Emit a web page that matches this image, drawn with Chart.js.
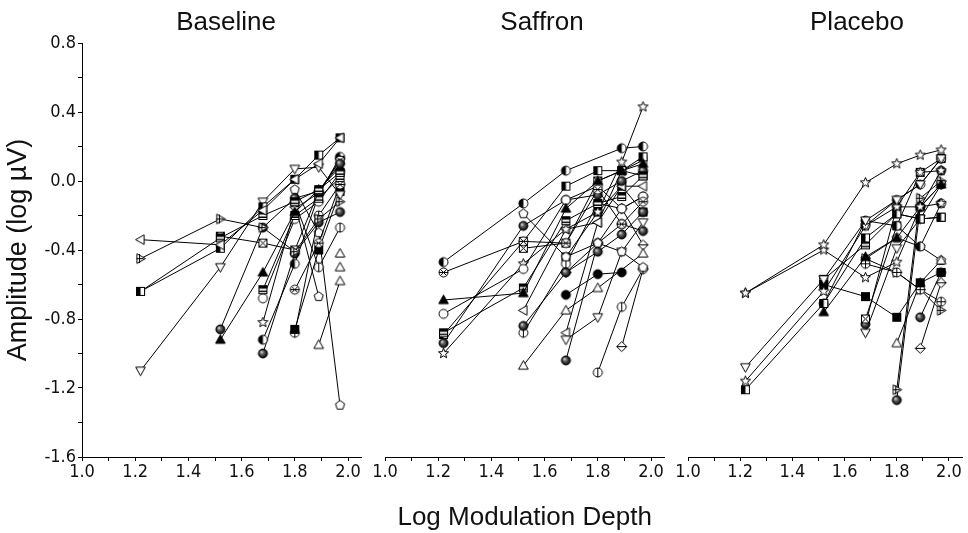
<!DOCTYPE html>
<html><head><meta charset="utf-8">
<script src="https://cdn.jsdelivr.net/npm/chart.js@4"></script>
<style>
html,body{margin:0;padding:0;background:#fff;overflow:hidden}
#wrap{position:relative;width:968px;height:533px;background:#fff}
#wrap canvas{position:absolute;left:0;top:0}
</style></head>
<body>
<div id="wrap">
<canvas id="c1" width="968" height="533"></canvas>
<canvas id="c2" width="968" height="533"></canvas>
<canvas id="c3" width="968" height="533"></canvas>
</div>
<script>
// ---------------- data ----------------
const depth = [1.22, 1.52, 1.68, 1.80, 1.89, 1.97];
const panelTitles = ['Baseline', 'Saffron', 'Placebo'];
const xTickLabels = ['1.0', '1.2', '1.4', '1.6', '1.8', '2.0'];
const yTickLabels = ['-1.6', '-1.2', '-0.8', '-0.4', '0.0', '0.4', '0.8'];
const yAxisTitle = 'Amplitude (log \u00B5V)';
const xAxisTitle = 'Log Modulation Depth';

// amplitude (log µV) per subject, one value per depth (null = not measured)
const baselineAmp = [
  [-0.34, -0.37, -0.17, 0.01, 0.10, 0.25],
  [-0.45, -0.22, -0.27, -0.41, -0.22, -0.12],
  [-0.64, -0.39, -0.15, 0.01, 0.15, 0.25],
  [-0.64, -0.33, -0.20, -0.12, -0.05, 0.05],
  [-1.10, -0.50, -0.12, 0.07, 0.08, -0.08],
  [null, -0.86, -0.27, -0.10, -0.06, 0.10],
  [null, -0.92, -0.53, -0.18, -0.05, 0.08],
  [null, -0.32, -0.36, -0.40, -0.06, 0.12],
  [null, null, -0.63, -0.20, -0.10, 0.02],
  [null, null, -0.68, -0.22, -0.12, 0.05],
  [null, null, -0.82, -0.16, -0.07, 0.12],
  [null, null, -0.92, -0.48, -0.08, 0.14],
  [null, null, -1.00, -0.42, -0.24, -0.18],
  [null, null, null, -0.63, -0.36, -0.02],
  [null, null, null, -0.86, -0.40, -0.06],
  [null, null, null, -0.88, -0.20, -0.02],
  [null, null, null, -0.12, -0.50, -0.27],
  [null, null, null, -0.05, -0.30, -1.30],
  [null, null, null, null, -0.95, -0.58],
  [null, null, null, -0.13, -0.67, null],
  [null, null, null, null, null, -0.42],
  [null, null, null, null, null, -0.50]
];
const saffronAmp = [
  [-0.47, -0.13, 0.06, null, 0.19, 0.20],
  [-0.53, -0.35, -0.36, -0.05, -0.25, -0.12],
  [-0.69, -0.65, -0.16, 0.00, 0.06, 0.10],
  [-0.77, -0.51, -0.11, -0.03, -0.16, -0.09],
  [-0.88, -0.62, -0.23, -0.13, -0.09, 0.03],
  [-0.89, -0.35, -0.03, 0.06, 0.06, 0.14],
  [-0.94, -0.26, -0.11, -0.08, 0.00, 0.06],
  [-1.00, -0.48, -0.28, -0.18, 0.11, 0.43],
  [null, -0.19, -0.44, -0.36, -0.41, -0.50],
  [null, -0.75, -0.28, -0.24, -0.03, -0.03],
  [null, -0.84, -0.53, -0.41, -0.31, -0.18],
  [null, -0.88, -0.48, -0.13, -0.16, -0.09],
  [null, -1.07, -0.75, -0.62, null, -0.42],
  [null, null, -0.66, -0.54, -0.53, null],
  [null, null, -0.92, -0.79, -0.41, -0.24],
  [null, null, -1.04, -0.36, -0.25, -0.29],
  [null, null, null, -1.11, -0.73, -0.51],
  [null, null, null, null, -0.96, -0.51],
  [null, null, -0.44, -0.18, -0.03, -0.18],
  [null, null, -0.53, -0.36, -0.16, -0.37],
  [null, null, -0.88, -0.24, 0.06, 0.12],
  [null, -0.39, -0.36, 0.00, 0.06, 0.03]
];
const placeboAmp = [
  [-0.65, -0.37, -0.01, 0.10, 0.15, 0.18],
  [-0.65, -0.40, -0.56, -0.47, -0.15, -0.13],
  [-1.08, -0.57, -0.23, -0.11, -0.02, 0.13],
  [-1.16, -0.64, -0.26, -0.15, 0.05, 0.06],
  [-1.21, -0.71, -0.33, -0.19, -0.22, -0.21],
  [null, -0.76, -0.44, -0.33, -0.15, -0.02],
  [null, -0.71, -0.23, -0.26, -0.38, -0.13],
  [null, -0.60, -0.67, -0.79, -0.59, -0.53],
  [null, null, -0.80, -0.26, 0.05, 0.13],
  [null, null, -0.83, -0.15, -0.15, 0.06],
  [null, null, -0.88, -0.39, -0.22, -0.02],
  [null, null, -0.48, -0.53, -0.63, -0.70],
  [null, null, null, -0.94, -0.59, -0.46],
  [null, null, null, -1.21, -0.10, 0.00],
  [null, null, null, -1.27, -0.15, -0.02],
  [null, null, null, null, -0.97, -0.59],
  [null, null, null, null, -0.79, -0.53],
  [null, null, -0.45, -0.53, -0.63, -0.75],
  [null, -0.57, -0.37, -0.19, -0.22, -0.21],
  [null, null, -0.26, -0.11, -0.02, 0.13],
  [null, null, -0.45, -0.33, -0.38, -0.46]
];

// ---------------- styles ----------------
const baselineMarkers = ['triL','triRP','sqH','sqB','triD','sphere','triUF','xbox','sqB','circO','star','circH','sphere','xcirc','sqF','oplus','circV','pent','triU','pent','triU','triU'];
const saffronMarkers = ['circH','xcirc','triUF','circO','sqB','sqH','sphere','star','pent','triL','sphere','circV','triU','circF','triD','sphere','circV','diam','sqF','diam','triL','xbox'];
const placeboMarkers = ['star','star','triD','star','sqH','triUF','circH','sqF','xbox','sphere','triD','oplus','triU','triRP','sphere','diam','sphere','triRP','sqB','circH','pent'];

const markerCache = {};
function marker(type) {
  if (markerCache[type]) return markerCache[type];
  const s = 13, c = document.createElement('canvas');
  c.width = s; c.height = s;
  const g = c.getContext('2d');
  g.translate(6.5, 6.5);
  g.lineWidth = 1; g.strokeStyle = '#000'; g.fillStyle = '#fff';
  const r = 4.5;
  const circ = () => { g.beginPath(); g.arc(0, 0, r, 0, Math.PI * 2); };
  const poly = (n, rr, rot) => {
    g.beginPath();
    for (let i = 0; i < n; i++) {
      const a = rot + i * 2 * Math.PI / n;
      const px = rr * Math.cos(a), py = rr * Math.sin(a);
      i ? g.lineTo(px, py) : g.moveTo(px, py);
    }
    g.closePath();
  };
  const tri = (rot, fill) => {
    g.save(); g.rotate(rot);
    g.beginPath(); g.moveTo(0, -5); g.lineTo(4.8, 3.6); g.lineTo(-4.8, 3.6); g.closePath();
    g.fillStyle = fill; g.fill(); g.stroke(); g.restore();
  };
  const line = (x1, y1, x2, y2) => { g.beginPath(); g.moveTo(x1, y1); g.lineTo(x2, y2); g.stroke(); };
  switch (type) {
    case 'circO': circ(); g.fill(); g.stroke(); break;
    case 'circF': circ(); g.fillStyle = '#000'; g.fill(); g.stroke(); break;
    case 'circH':
      circ(); g.fill();
      g.beginPath(); g.arc(0, 0, r, Math.PI / 2, Math.PI * 1.5); g.closePath(); g.fillStyle = '#000'; g.fill();
      circ(); g.stroke(); break;
    case 'sphere': {
      const gr = g.createRadialGradient(-1.6, -1.6, 0.2, 0, 0, r);
      gr.addColorStop(0, '#e8e8e8'); gr.addColorStop(0.35, '#6a6a6a'); gr.addColorStop(1, '#000');
      circ(); g.fillStyle = gr; g.fill(); g.stroke(); break;
    }
    case 'circV': circ(); g.fill(); g.stroke(); line(0, -r, 0, r); break;
    case 'oplus': circ(); g.fill(); g.stroke(); line(0, -r, 0, r); line(-r, 0, r, 0); break;
    case 'xcirc': circ(); g.fill(); g.stroke();
      line(-3.2, -3.2, 3.2, 3.2); line(-3.2, 3.2, 3.2, -3.2); line(-r, 0, r, 0); break;
    case 'sqO': g.fillRect(-4, -4, 8, 8); g.strokeRect(-4, -4, 8, 8); break;
    case 'sqF': g.fillStyle = '#000'; g.fillRect(-4, -4, 8, 8); g.strokeRect(-4, -4, 8, 8); break;
    case 'sqH': g.fillRect(-4, -4, 8, 8); g.fillStyle = '#000'; g.fillRect(-4, -4, 4, 8); g.strokeRect(-4, -4, 8, 8); break;
    case 'sqB': g.fillRect(-4, -4, 8, 8); g.fillStyle = '#000'; g.fillRect(-4, -4, 8, 3); g.fillRect(-4, 1, 8, 1.5); g.strokeRect(-4, -4, 8, 8); break;
    case 'xbox': g.fillRect(-4, -4, 8, 8); g.strokeRect(-4, -4, 8, 8); line(-4, -4, 4, 4); line(-4, 4, 4, -4); break;
    case 'triU': tri(0, '#fff'); break;
    case 'triUF': tri(0, '#000'); break;
    case 'triD': tri(Math.PI, '#fff'); break;
    case 'triL': tri(-Math.PI / 2, '#fff'); break;
    case 'triR': tri(Math.PI / 2, '#fff'); break;
    case 'triRP': tri(Math.PI / 2, '#fff'); line(-1, -4.5, -1, 4.5); line(-4, 0, 3, 0); break;
    case 'star': {
      g.beginPath();
      for (let i = 0; i < 10; i++) {
        const a = -Math.PI / 2 + i * Math.PI / 5, rr = i % 2 ? 2.3 : 5.3;
        const px = rr * Math.cos(a), py = rr * Math.sin(a);
        i ? g.lineTo(px, py) : g.moveTo(px, py);
      }
      g.closePath(); g.fill(); g.stroke(); break;
    }
    case 'pent': poly(5, 4.8, -Math.PI / 2); g.fill(); g.stroke(); break;
    case 'diam': poly(4, 5, -Math.PI / 2); g.fill(); g.stroke(); line(-5, 0, 5, 0); break;
    default: circ(); g.fill(); g.stroke();
  }
  markerCache[type] = c;
  return c;
}

// ---------------- charts ----------------
const FONT = "'Liberation Sans Narrow', 'DejaVu Sans Condensed', sans-serif";
const FONT_REG = "Liberation Sans, Arial, sans-serif";
const TOP = 43, BOTTOM = 457, X_PX_PER_UNIT = 266, X_MIN = 1.0, X_MAX = 2.05;
const panelLeft = [82, 385, 688];
const titleX = [226, 542, 857];

const titlePlugin = {
  id: 'panelTitle',
  afterDraw(chart, args, opts) {
    const ctx = chart.ctx;
    ctx.save();
    ctx.font = '26px ' + FONT_REG;
    ctx.fillStyle = '#111';
    ctx.textAlign = 'center';
    ctx.textBaseline = 'middle';
    ctx.fillText(opts.text, opts.x, 23);
    ctx.restore();
  }
};

function makeDatasets(rows, markers) {
  return rows.map((row, i) => ({
    data: row.map((v, j) => v === null ? null : { x: depth[j], y: v }).filter(p => p),
    borderColor: '#000',
    borderWidth: 1,
    pointStyle: marker(markers[i]),
    pointRadius: 5,
    pointHoverRadius: 5,
    showLine: true,
    fill: false,
    tension: 0
  }));
}

function makeChart(id, idx, rows, markers) {
  const left = panelLeft[idx];
  const right = left + (X_MAX - X_MIN) * X_PX_PER_UNIT;
  const isFirst = idx === 0;
  const isMid = idx === 1;
  new Chart(document.getElementById(id), {
    type: 'line',
    data: { datasets: makeDatasets(rows, markers) },
    plugins: [titlePlugin],
    options: {
      responsive: false,
      animation: false,
      events: [],
      layout: { padding: { left: isFirst ? 0 : left, right: 968 - right, top: TOP, bottom: 0 } },
      plugins: {
        legend: { display: false },
        tooltip: { enabled: false },
        panelTitle: { text: panelTitles[idx], x: titleX[idx] }
      },
      scales: {
        x: {
          type: 'linear',
          min: X_MIN, max: X_MAX,
          afterBuildTicks: (s) => {
            const t = [];
            for (let i = 0; i <= 10; i++) t.push({ value: Math.round((1 + i / 10) * 10) / 10 });
            s.ticks = t;
          },
          afterFit: (s) => { s.height = 533 - BOTTOM; },
          ticks: {
            autoSkip: false, maxRotation: 0, minRotation: 0, padding: 1,
            color: '#111',
            font: { family: FONT, size: 18 },
            callback: (v) => {
              const lbl = v.toFixed(1);
              return xTickLabels.includes(lbl) ? lbl : '';
            }
          },
          grid: { drawOnChartArea: false, drawTicks: true, tickLength: 4, color: '#000', lineWidth: 1 },
          border: { display: true, color: '#000', width: 1 },
          title: {
            display: isMid, text: xAxisTitle, color: '#111',
            font: { family: FONT_REG, size: 26 }, padding: { top: 0, bottom: 0 }
          }
        },
        y: {
          type: 'linear',
          display: isFirst,
          min: -1.6, max: 0.8,
          afterBuildTicks: (s) => {
            const t = [];
            for (let i = 0; i <= 12; i++) t.push({ value: Math.round((-1.6 + i * 0.2) * 10) / 10 });
            s.ticks = t;
          },
          afterFit: (s) => { s.width = isFirst ? panelLeft[0] : 0; },
          ticks: {
            autoSkip: false, padding: 2, color: '#111',
            font: { family: FONT, size: 18 },
            callback: (v) => {
              const lbl = (Math.abs(v) < 1e-9 ? 0 : v).toFixed(1);
              return yTickLabels.includes(lbl) ? lbl : '';
            }
          },
          grid: { drawOnChartArea: false, drawTicks: true, tickLength: 4, color: '#000', lineWidth: 1 },
          border: { display: true, color: '#000', width: 1 },
          title: {
            display: true, text: yAxisTitle, color: '#111',
            font: { family: FONT_REG, size: 27 }, padding: { top: 2, bottom: 0 }
          }
        }
      }
    }
  });
}

makeChart('c1', 0, baselineAmp, baselineMarkers);
makeChart('c2', 1, saffronAmp, saffronMarkers);
makeChart('c3', 2, placeboAmp, placeboMarkers);
</script>
</body></html>
